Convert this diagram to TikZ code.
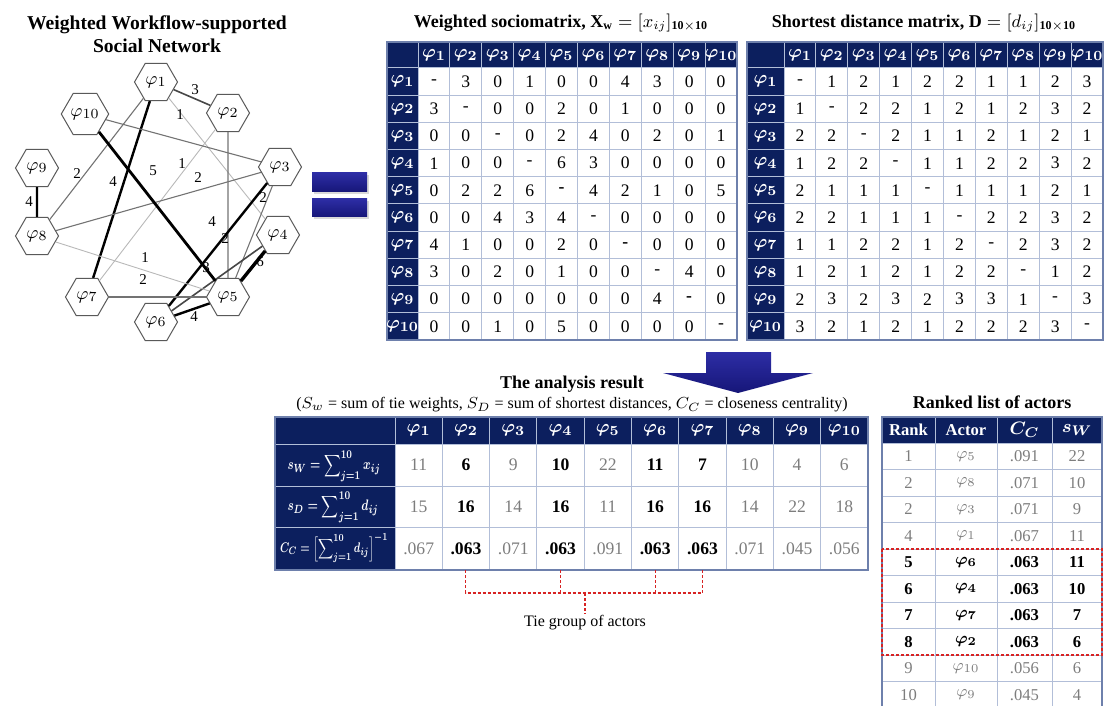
\documentclass[tikz,border=0pt]{standalone}
\usepackage{amsmath}
\usepackage{bm}
\usepackage{graphicx}
\usepackage{fontspec}
\setmainfont{Liberation Serif}
\usetikzlibrary{shapes.geometric,shadows}
\definecolor{navy}{RGB}{12,31,94}
\definecolor{gridc}{RGB}{178,190,216}
\definecolor{borderc}{RGB}{110,128,172}
\definecolor{valgray}{RGB}{125,125,125}
\definecolor{eqtop}{RGB}{45,45,165}
\definecolor{eqbot}{RGB}{22,22,120}
\definecolor{tiered}{RGB}{215,35,35}
\newcommand{\myg}[1]{\textcolor{valgray}{#1}}
\newcommand{\myb}[1]{\textbf{#1}}
\tikzset{
  hexn/.style={regular polygon, regular polygon sides=6, draw=black!65, line width=0.5pt,
    minimum size=21.5pt, inner sep=0pt, fill=white, font=\fontsize{9.5}{10}\selectfont},
  wa/.style={draw=black!28, line width=0.45pt},
  wb/.style={draw=black!55, line width=0.55pt},
  wc/.style={draw=black!72, line width=0.8pt},
  wd/.style={draw=black, line width=1.2pt},
  we/.style={draw=black, line width=1.4pt},
  wf/.style={draw=black, line width=1.7pt},
  elab/.style={font=\fontsize{7.5}{8}\selectfont, inner sep=0.5pt},
  ttl/.style={font=\fontsize{9}{11.5}\selectfont\bfseries, align=center, inner sep=0pt},
  hd/.style={text=white, font=\fontsize{9.3}{10}\selectfont, inner sep=0pt},
  cell/.style={font=\fontsize{8.8}{9}\selectfont, inner sep=0pt},
  acell/.style={font=\fontsize{8.8}{9}\selectfont, inner sep=0pt},
  rg/.style={font=\fontsize{8.3}{9}\selectfont, text=valgray, inner sep=0pt},
  rb/.style={font=\fontsize{8.3}{9}\selectfont\bfseries\boldmath, inner sep=0pt},
  gline/.style={draw=gridc, line width=0.5pt},
  obord/.style={draw=borderc, line width=0.7pt},
  tiedash/.style={draw=tiered, line width=0.6pt, dash pattern=on 1.5pt off 1pt},
}
\begin{document}
\begin{tikzpicture}[x=0.5pt,y=-0.5pt]
\useasboundingbox (0,0) rectangle (1104,706);

% ---------- network ----------
\node[ttl, font=\fontsize{9.8}{11.5}\selectfont\bfseries] (ttlnet) at (157,34) {Weighted Workflow-supported\\Social Network};
\node[hexn] (n1) at (156,82) {$\varphi_1$};
\node[hexn] (n2) at (228,113) {$\varphi_2$};
\node[hexn] (n10) at (85,114) {$\varphi_{10}$};
\node[hexn] (n3) at (280,167) {$\varphi_3$};
\node[hexn] (n9) at (37,168) {$\varphi_9$};
\node[hexn] (n8) at (37,236) {$\varphi_8$};
\node[hexn] (n4) at (278,235) {$\varphi_4$};
\node[hexn] (n7) at (87,297) {$\varphi_7$};
\node[hexn] (n5) at (228,297) {$\varphi_5$};
\node[hexn] (n6) at (156,322) {$\varphi_6$};

\draw[wc] (n1) -- (n2);
\draw[wa] (n1) -- (n4);
\draw[wd] (n1) -- (n7);
\draw[wb] (n1) -- (n8);
\draw[wb] (n2) -- (n5);
\draw[wa] (n2) -- (n7);
\draw[wb] (n3) -- (n5);
\draw[wd] (n3) -- (n6);
\draw[wb] (n3) -- (n8);
\draw[wb] (n3) -- (n10);
\draw[wf] (n4) -- (n5);
\draw[wc] (n4) -- (n6);
\draw[wd] (n5) -- (n6);
\draw[wb] (n5) -- (n7);
\draw[wa] (n5) -- (n8);
\draw[we] (n5) -- (n10);
\draw[wd] (n8) -- (n9);

\node[elab] (l12) at (195,90) {3};
\node[elab] (l14) at (180,115) {1};
\node[elab] (l27) at (182,164) {1};
\node[elab] (l18) at (77,174) {2};
\node[elab] (l510) at (153,171) {5};
\node[elab] (l38) at (198,178) {2};
\node[elab] (l17) at (113,182) {4};
\node[elab] (l35) at (263,198) {2};
\node[elab] (l89) at (29,202) {4};
\node[elab] (l36) at (212,222) {4};
\node[elab] (l25) at (225,239) {2};
\node[elab] (l58) at (145,258) {1};
\node[elab] (l46) at (206,268) {3};
\node[elab] (l45) at (260,262) {6};
\node[elab] (l57) at (143,280) {2};
\node[elab] (l56) at (194,317) {4};

% ---------- equals sign ----------
\path[top color=eqtop, bottom color=eqbot, drop shadow={opacity=0.3,shadow xshift=0.8pt,shadow yshift=-0.8pt}] (312,173) rectangle (367,192);
\path[top color=eqtop, bottom color=eqbot, drop shadow={opacity=0.3,shadow xshift=0.8pt,shadow yshift=-0.8pt}] (312,199) rectangle (367,217);

% ---------- weighted sociomatrix ----------
\node[ttl, anchor=base] (ttlxw) at (561,28) {Weighted sociomatrix, $\mathbf{X_w}=[x_{ij}]_{\mathbf{10\times10}}$};
\fill[navy] (387,42) rectangle (737,68);
\fill[navy] (387,68) rectangle (418,340);
\foreach \k in {0,...,10} {
  \draw[gline] ({418+\k*31.9},42) -- ({418+\k*31.9},340);
  \draw[gline] (387,{68+\k*27.2}) -- (737,{68+\k*27.2});
}
\draw[obord] (387,42) rectangle (737,340);
\foreach \k in {1,...,10} {
  \node[hd] (xwc\k) at ({418+(\k-0.5)*31.9},55.5) {$\bm{\varphi_{\k}}$};
  \node[hd] (xwr\k) at (402.5,{68+(\k-0.5)*27.2}) {$\bm{\varphi_{\k}}$};
}
\foreach \row [count=\j] in {
  {-,3,0,1,0,0,4,3,0,0},
  {3,-,0,0,2,0,1,0,0,0},
  {0,0,-,0,2,4,0,2,0,1},
  {1,0,0,-,6,3,0,0,0,0},
  {0,2,2,6,\textbf{-},4,2,1,0,5},
  {0,0,4,3,4,-,0,0,0,0},
  {4,1,0,0,2,0,\textbf{-},0,0,0},
  {3,0,2,0,1,0,0,-,4,0},
  {0,0,0,0,0,0,0,4,\textbf{-},0},
  {0,0,1,0,5,0,0,0,0,-}} {
  \foreach \v [count=\i] in \row {
    \node[cell] (xw-\j-\i) at ({418+(\i-0.5)*31.9},{68+(\j-0.5)*27.2}) {\v};
  }
}

% ---------- shortest distance matrix ----------
\node[ttl, anchor=base] (ttld) at (924,28) {Shortest distance matrix, $\mathbf{D}=[d_{ij}]_{\mathbf{10\times10}}$};
\fill[navy] (747,42) rectangle (1103,68);
\fill[navy] (747,68) rectangle (784,340);
\foreach \k in {0,...,10} {
  \draw[gline] ({784+\k*31.9},42) -- ({784+\k*31.9},340);
  \draw[gline] (747,{68+\k*27.2}) -- (1103,{68+\k*27.2});
}
\draw[obord] (747,42) rectangle (1103,340);
\foreach \k in {1,...,10} {
  \node[hd] (dc\k) at ({784+(\k-0.5)*31.9},55.5) {$\bm{\varphi_{\k}}$};
  \node[hd] (dr\k) at (765.5,{68+(\k-0.5)*27.2}) {$\bm{\varphi_{\k}}$};
}
\foreach \row [count=\j] in {
  {-,1,2,1,2,2,1,1,2,3},
  {1,-,2,2,1,2,1,2,3,2},
  {2,2,-,2,1,1,2,1,2,1},
  {1,2,2,-,1,1,2,2,3,2},
  {2,1,1,1,-,1,1,1,2,1},
  {2,2,1,1,1,-,2,2,3,2},
  {1,1,2,2,1,2,-,2,3,2},
  {1,2,1,2,1,2,2,-,1,2},
  {2,3,2,3,2,3,3,1,-,3},
  {3,2,1,2,1,2,2,2,3,-}} {
  \foreach \v [count=\i] in \row {
    \node[cell] (d-\j-\i) at ({784+(\i-0.5)*31.9},{68+(\j-0.5)*27.2}) {\v};
  }
}

% ---------- arrow ----------
\path[top color=eqtop, bottom color=eqbot] (706,352) -- (771,352) -- (771,373) -- (813,373) -- (738,393) -- (663,373) -- (706,373) -- cycle;

% ---------- analysis result ----------
\node[ttl] (ttlan) at (572,384) {The analysis result};
\node[font=\fontsize{8}{9}\selectfont, inner sep=0pt] (suban) at (572,405) {($S_w$ = sum of tie weights, $S_D$ = sum of shortest distances, $C_C$ = closeness centrality)};
\fill[navy] (275,417) rectangle (868,444);
\fill[navy] (275,444) rectangle (395,570);
\foreach \k in {0,...,10} \draw[gline] ({395+\k*47.3},417) -- ({395+\k*47.3},570);
\foreach \yy in {444,486,527} \draw[gline] (275,\yy) -- (868,\yy);
\draw[obord] (275,417) rectangle (868,570);
\foreach \k in {1,...,10} \node[hd] (anc\k) at ({395+(\k-0.5)*47.3},430.5) {$\bm{\varphi_{\k}}$};
\node[hd] (anr1) at (334,466) {\resizebox*{46.5pt}{15.5pt}{\boldmath$\displaystyle s_W=\sum\nolimits_{j=1}^{10}x_{ij}$}};
\node[hd] (anr2) at (333,507) {\resizebox*{45.5pt}{15.5pt}{\boldmath$\displaystyle s_D=\sum\nolimits_{j=1}^{10}d_{ij}$}};
\node[hd] (anr3) at (334,548) {\resizebox*{54pt}{15pt}{\boldmath$\displaystyle C_C=\Bigl[\sum\nolimits_{j=1}^{10}d_{ij}\Bigr]^{-1}$}};
\foreach \row/\yy [count=\j] in {
  {\myg{11},\myb{6},\myg{9},\myb{10},\myg{22},\myb{11},\myb{7},\myg{10},\myg{4},\myg{6}}/465,
  {\myg{15},\myb{16},\myg{14},\myb{16},\myg{11},\myb{16},\myb{16},\myg{14},\myg{22},\myg{18}}/506.5,
  {\myg{.067},\myb{.063},\myg{.071},\myb{.063},\myg{.091},\myb{.063},\myb{.063},\myg{.071},\myg{.045},\myg{.056}}/548.5} {
  \foreach \v [count=\i] in \row {
    \node[acell] (an-\j-\i) at ({395+(\i-0.5)*47.3},\yy) {\v};
  }
}

% ---------- tie group ----------
\coordinate (tg2) at (465.6,570);
\coordinate (tg4) at (560.2,570);
\coordinate (tg6) at (655.2,570);
\coordinate (tg7) at (702.5,570);
\coordinate (tgm) at (585,593);
\node[font=\fontsize{8}{9}\selectfont, inner sep=1pt] (tielab) at (585,623) {Tie group of actors};
\draw[tiedash] (tg2) -- (465.6,593) -- (702.5,593) -- (tg7);
\draw[tiedash] (tg4) -- (560.2,593);
\draw[tiedash] (tg6) -- (655.2,593);
\draw[tiedash] (tgm) -- (tielab.north);

% ---------- ranked list ----------
\node[ttl] (ttlrk) at (992,402) {Ranked list of actors};
\fill[navy] (882,417) rectangle (1102,443);
\foreach \xx in {882,935,997,1052,1102} \draw[gline] (\xx,417) -- (\xx,720);
\foreach \k in {0,...,10} \draw[gline] (882,{443+\k*26.5}) -- (1102,{443+\k*26.5});
\draw[obord] (882,720) -- (882,417) -- (1102,417) -- (1102,720);
\node[hd, font=\fontsize{8.3}{9}\selectfont\bfseries] (rkh1) at (908.5,430) {Rank};
\node[hd, font=\fontsize{8.3}{9}\selectfont\bfseries] (rkh2) at (966,430) {Actor};
\node[hd] (rkh3) at (1024.5,430) {$\bm{C_C}$};
\node[hd] (rkh4) at (1077,430) {$\bm{s_W}$};
\foreach \ra/\ac/\cc/\sw/\st [count=\j] in {
  1/5/.091/22/rg, 2/8/.071/10/rg, 2/3/.071/9/rg, 4/1/.067/11/rg,
  5/6/.063/11/rb, 6/4/.063/10/rb, 7/7/.063/7/rb, 8/2/.063/6/rb,
  9/10/.056/6/rg, 10/9/.045/4/rg} {
  \node[\st] (rk-\j-1) at (908.5,{443+(\j-0.5)*26.5}) {\ra};
  \node[\st] (rk-\j-2) at (966,{443+(\j-0.5)*26.5}) {$\varphi_{\ac}$};
  \node[\st] (rk-\j-3) at (1024.5,{443+(\j-0.5)*26.5}) {\cc};
  \node[\st] (rk-\j-4) at (1077,{443+(\j-0.5)*26.5}) {\sw};
}
\draw[tiedash] (882,549) rectangle (1102,655);
\end{tikzpicture}
\end{document}
